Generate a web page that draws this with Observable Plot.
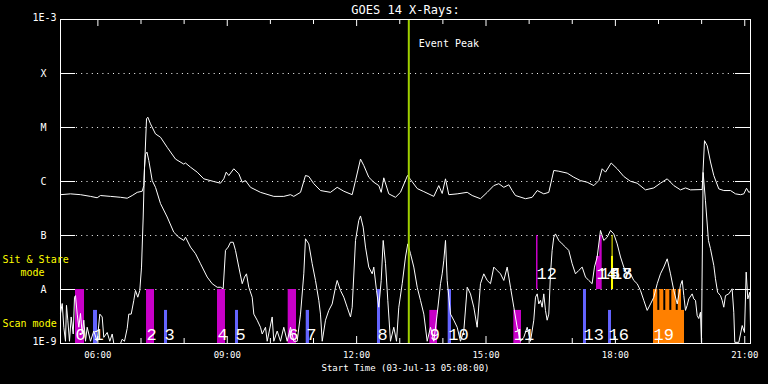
<!DOCTYPE html>
<html><head><meta charset="utf-8">
<script src="https://cdn.jsdelivr.net/npm/d3@7"></script>
<script src="https://cdn.jsdelivr.net/npm/@observablehq/plot@0.6"></script>
<style>html,body{margin:0;padding:0;background:#000;}</style>
</head><body><div id="chart"></div>
<script>
// ---- DATA ----
const chartTitle = "GOES 14 X-Rays:";
const startLabel = "Start Time (03-Jul-13 05:08:00)";
const startHour = 5 + 8 / 60, endHour = 21 + 8 / 60;
const levelValues = [1e-8, 1e-7, 1e-6, 1e-5, 1e-4];
const levelLabels = ["A", "B", "C", "M", "X"];
const edgeValues = [1e-9, 1e-3];
const edgeLabels = ["1E-9", "1E-3"];
const eventPeakHour = 13.21;

// GOES long channel (1-8 A)
const longHours = [5.133,5.365,5.597,5.829,5.984,6.061,6.293,6.525,6.680,6.796,
6.912,7.028,7.065,7.128,7.158,7.220,7.336,7.452,7.607,7.800,
7.992,8.032,8.148,8.303,8.456,8.688,8.843,8.920,8.976,9.036,
9.152,9.268,9.347,9.423,9.539,9.771,10.079,10.311,10.467,10.543,
10.699,10.814,10.891,11.007,11.162,11.394,11.549,11.703,11.897,11.974,
12.090,12.166,12.282,12.398,12.514,12.570,12.630,12.746,12.901,13.017,
13.180,13.249,13.405,13.558,13.790,13.905,13.984,14.061,14.137,14.332,
14.564,14.680,14.872,15.028,15.181,15.297,15.413,15.529,15.607,15.684,
15.916,16.071,16.187,16.340,16.456,16.572,16.688,16.883,17.036,17.191,
17.346,17.500,17.616,17.694,17.771,17.903,18.042,18.195,18.350,18.506,
18.698,18.891,19.046,19.202,19.355,19.510,19.626,19.742,20.013,20.067,
20.129,20.206,20.282,20.398,20.514,20.670,20.786,20.901,20.978,21.041,
21.094,21.133];
const longFlux = [5.7e-7,5.9e-7,5.7e-7,5.3e-7,5.0e-7,5.5e-7,5.3e-7,5.1e-7,4.9e-7,5.5e-7,
6.3e-7,6.6e-7,8.4e-7,1.45e-5,1.55e-5,1.17e-5,7.6e-6,6.6e-6,4.3e-6,2.6e-6,
2.1e-6,2.2e-6,1.84e-6,1.49e-6,1.12e-6,1.0e-6,9.3e-7,1.12e-6,1.49e-6,1.29e-6,
1.72e-6,1.39e-6,9.7e-7,1.04e-6,7.8e-7,6.3e-7,5.3e-7,5.3e-7,5.7e-7,5.3e-7,
6.3e-7,1.29e-6,1.24e-6,9.1e-7,6.8e-7,6.3e-7,7.8e-7,6.6e-7,5.7e-7,1.04e-6,
2.6e-6,1.98e-6,1.2e-6,9.7e-7,8.4e-7,6.3e-7,1.17e-6,5.9e-7,5.1e-7,6.3e-7,
1.29e-6,1.09e-6,7.4e-7,6.5e-7,5.3e-7,8.4e-7,6.0e-7,1.12e-6,5.7e-7,5.9e-7,
6.3e-7,5.5e-7,4.8e-7,6.3e-7,8.4e-7,9.1e-7,7.8e-7,8.7e-7,6.8e-7,5.5e-7,
4.8e-7,5.1e-7,6.8e-7,5.9e-7,6.3e-7,1.6e-6,1.55e-6,1.43e-6,1.2e-6,1.04e-6,
9.7e-7,8.4e-7,1.04e-6,1.72e-6,1.49e-6,2.2e-6,1.72e-6,1.24e-6,1.01e-6,9.3e-7,
7.0e-7,7.6e-7,9.3e-7,1.12e-6,8.4e-7,7.0e-7,7.6e-7,7.0e-7,7.1e-7,5.7e-6,
4.6e-6,2.3e-6,1.29e-6,7.3e-7,6.8e-7,6.8e-7,5.9e-7,5.7e-7,5.9e-7,7.5e-7,
6.3e-7,6.5e-7];

// GOES short channel (0.5-4 A)
const shortHours = [5.133,5.173,5.210,5.249,5.272,5.303,5.342,5.381,5.428,5.458,
5.481,5.521,5.558,5.597,5.637,5.674,5.713,5.752,5.829,5.905,
5.984,6.045,6.100,6.137,6.216,6.277,6.332,6.369,6.525,6.564,
6.617,6.680,6.717,6.773,6.833,6.872,6.926,6.972,7.012,7.051,
7.081,7.104,7.139,7.181,7.260,7.336,7.452,7.607,7.760,7.876,
7.992,8.032,8.148,8.264,8.380,8.535,8.651,8.767,8.843,8.906,
8.959,9.022,9.075,9.138,9.191,9.268,9.347,9.400,9.446,9.500,
9.578,9.616,9.694,9.771,9.810,9.887,9.926,10.042,10.079,10.158,
10.235,10.311,10.390,10.467,10.543,10.622,10.699,10.775,10.814,10.891,
10.970,11.046,11.123,11.162,11.202,11.278,11.355,11.433,11.510,11.549,
11.626,11.703,11.781,11.858,11.897,11.974,12.050,12.090,12.152,12.206,
12.282,12.361,12.398,12.461,12.514,12.570,12.616,12.670,12.723,12.785,
12.862,12.925,12.978,13.057,13.133,13.187,13.249,13.326,13.405,13.481,
13.558,13.636,13.713,13.790,13.868,13.945,13.984,14.021,14.061,14.100,
14.177,14.253,14.332,14.408,14.485,14.564,14.640,14.717,14.795,14.872,
14.949,15.028,15.104,15.181,15.259,15.336,15.413,15.491,15.568,15.645,
15.723,15.800,15.876,15.955,16.032,16.108,16.148,16.187,16.224,16.263,
16.302,16.340,16.379,16.418,16.456,16.495,16.534,16.572,16.611,16.688,
16.766,16.843,16.919,16.998,17.075,17.151,17.230,17.307,17.384,17.461,
17.515,17.578,17.655,17.731,17.810,17.887,17.963,18.042,18.119,18.195,
18.274,18.350,18.427,18.506,18.582,18.659,18.738,18.815,18.891,18.970,
19.046,19.123,19.202,19.278,19.355,19.434,19.510,19.550,19.587,19.626,
19.665,19.702,19.781,19.818,19.858,19.897,19.934,19.973,19.996,20.035,
20.089,20.158,20.205,20.282,20.321,20.370,20.437,20.476,20.514,20.553,
20.630,20.707,20.746,20.769,20.862,20.941,20.994,21.033,21.071,21.118,
21.133];
const shortFlux = [3.6e-9,5.5e-9,2.0e-9,1.1e-9,5.1e-9,2.7e-9,1.1e-9,3.1e-9,1.5e-9,7.2e-9,
7.7e-9,3.5e-9,2.0e-9,3.6e-9,1.5e-9,2.7e-9,1.1e-9,2.0e-9,1.1e-9,1.7e-9,
1.1e-9,3.5e-9,3.1e-9,1.3e-9,1.6e-9,1.1e-9,1.5e-9,1.0e-9,1.0e-9,1.2e-9,
1.1e-9,1.9e-9,3.5e-9,3.5e-9,6.3e-9,9.6e-9,7.2e-9,9.6e-9,2.6e-8,2.2e-7,
1.8e-6,3.2e-6,3.5e-6,2.45e-6,1.04e-6,7.8e-7,3.9e-7,2.2e-7,1.15e-7,9.3e-8,
8.1e-8,9.3e-8,6.1e-8,4.6e-8,3.0e-8,1.7e-8,1.28e-8,1.1e-8,1.1e-8,1.03e-8,
5.3e-8,6.1e-8,7.5e-8,7.5e-8,5.3e-8,2.6e-8,1.28e-8,1.7e-8,1.95e-8,1.1e-8,
7.2e-9,3.5e-9,2.7e-9,2.0e-9,1.5e-9,2.0e-9,1.1e-9,3.1e-9,1.1e-9,1.7e-9,
1.1e-9,2.0e-9,1.1e-9,2.0e-9,1.1e-9,1.1e-9,3.5e-9,1.95e-8,8.7e-8,7.0e-8,
3.0e-8,1.47e-8,6.3e-9,3.5e-9,1.1e-9,2.7e-9,4.1e-9,5.4e-9,1.1e-8,1.47e-8,
9.6e-9,7.2e-9,4.7e-9,3.1e-9,4.7e-9,8.1e-8,1.9e-7,2.3e-7,1.43e-7,6.1e-8,
2.6e-8,1.95e-8,2.6e-8,9.6e-9,4.7e-9,1.47e-8,8.1e-8,3.0e-8,6.3e-9,1.1e-9,
2.0e-9,1.1e-9,4.7e-9,1.28e-8,4.0e-8,7.0e-8,4.6e-8,2.6e-8,1.1e-8,6.3e-9,
3.5e-9,1.1e-9,2.0e-9,1.1e-9,3.5e-9,1.28e-8,1.95e-8,3.4e-8,8.1e-8,1.47e-8,
3.5e-9,2.7e-9,2.0e-9,1.1e-9,1.7e-9,1.1e-8,8.3e-9,4.7e-9,2.0e-9,1.28e-8,
1.95e-8,1.47e-8,1.28e-8,2.6e-8,2.25e-8,1.95e-8,1.47e-8,2.6e-8,1.1e-8,4.7e-9,
2.0e-9,1.1e-9,1.3e-9,2.0e-9,1.1e-9,2.7e-9,7.2e-9,8.3e-9,5.4e-9,6.3e-9,
4.7e-9,8.3e-9,4.1e-9,2.7e-9,3.5e-9,1.95e-8,5.3e-8,9.3e-8,1.07e-7,8.1e-8,
7.0e-8,6.1e-8,5.3e-8,3.0e-8,1.95e-8,2.25e-8,2.6e-8,1.7e-8,1.47e-8,1.28e-8,
2.6e-8,4.0e-8,1.24e-7,8.1e-8,9.3e-8,1.24e-7,1.07e-7,7.0e-8,4.0e-8,2.6e-8,
1.95e-8,1.95e-8,1.47e-8,1.28e-8,9.6e-9,6.3e-9,4.1e-9,5.4e-9,7.2e-9,1.28e-8,
1.95e-8,2.6e-8,3.7e-8,1.95e-8,9.6e-9,5.4e-9,1.2e-8,1.47e-8,7.7e-9,4.1e-9,
5.1e-9,6.7e-9,8.3e-9,6.7e-9,6.3e-9,3.3e-9,2.9e-9,3.8e-9,1.05e-9,1.47e-6,
4.4e-7,8.1e-8,5.7e-8,2.8e-8,1.58e-8,8.9e-9,7.7e-9,6.3e-9,4.7e-9,7.7e-9,
8.3e-9,1.03e-8,3.8e-9,1.05e-9,1.05e-9,2.15e-9,1.6e-9,2.1e-8,6.7e-9,8.9e-9,
2.15e-9];

// Observation bars: id label, start/end (UT hours), mode, top flux, kind
const barIds   = ["0","1","2","3","4","5","6","7","8","9","10","11","12","13","14","15","16","17","18","19","","","","",""];
const barStart = [5.481,5.899,7.128,7.545,8.774,9.191,10.413,10.831,12.484,13.697,14.123,15.645,16.171,17.261,17.562,17.639,17.841,17.910,17.924,18.884,18.884,19.030,19.169,19.309,19.457];
const barEnd   = [5.690,5.991,7.313,7.615,8.959,9.261,10.606,10.907,12.554,13.875,14.200,15.823,16.206,17.330,17.655,17.694,17.910,17.957,17.947,19.603,18.984,19.123,19.262,19.411,19.534];
const barMode  = ["scan","scan","scan","scan","scan","scan","scan","scan","scan","scan","scan","scan","sit","scan","sit","sit","scan","sit","sit","scan","scan","scan","scan","scan","scan"];
const barTop   = [1e-8,4.1e-9,1e-8,4.1e-9,1e-8,4.1e-9,1e-8,4.1e-9,1e-8,4.1e-9,1e-8,4.1e-9,1e-7,1e-8,4.1e-8,1e-7,4.1e-9,4.1e-8,1e-7,4.1e-9,1e-8,1e-8,1e-8,1e-8,1e-8];
const barKind  = ["M","B","M","B","M","B","M","B","B","M","B","M","M","B","M","M","B","Y","Y","O","O","O","O","O","O"];
const kindDomain = ["M","B","Y","O"];
const kindColors = ["#c800c8","#6464ff","#ffff00","#ff8000"];

// ---- BUILD ----
const day0 = Date.UTC(2013, 6, 3);
const toDate = h => new Date(day0 + h * 3600e3);
const longData = longHours.map((h, i) => ({t: toDate(h), f: longFlux[i]}));
const shortData = shortHours.map((h, i) => ({t: toDate(h), f: shortFlux[i]}));
const bars = barIds.map((id, i) => ({
  id, t1: toDate(barStart[i]), t2: toDate(barEnd[i]), mode: barMode[i],
  y1: barMode[i] === "sit" ? 1e-8 : 1e-9, y2: barTop[i], kind: barKind[i]
}));
const t0 = toDate(startHour), t1 = toDate(endHour);
const hourTicks = d3.utcHours(t0, t1);
const majorTicks = hourTicks.filter(d => d.getUTCHours() % 3 === 0);
const minorTicks = hourTicks.filter(d => d.getUTCHours() % 3 !== 0);
const mono = "'DejaVu Sans Mono', monospace";
const thinMono = "'Liberation Mono', 'DejaVu Sans Mono', monospace";

const chart = Plot.plot({
  width: 768, height: 384,
  marginLeft: 60, marginRight: 18, marginTop: 19, marginBottom: 41,
  style: {background: "black", color: "white", fontFamily: mono, fontSize: "9px"},
  x: {type: "utc", domain: [t0, t1]},
  y: {type: "log", domain: [1e-9, 1e-3], axis: null},
  color: {domain: kindDomain, range: kindColors},
  marks: [
    Plot.ruleY(levelValues, {y: d => d, stroke: "white", strokeDasharray: "1,4.3"}),
    Plot.rect(bars, {x1: "t1", x2: "t2", y1: "y1", y2: "y2", fill: "kind"}),
    Plot.line(longData, {x: "t", y: "f", stroke: "white", strokeWidth: 1}),
    Plot.line(shortData, {x: "t", y: "f", stroke: "white", strokeWidth: 1}),
    Plot.text(bars.filter(d => d.mode === "scan" && d.id), {x: "t1", y: () => 1e-9, text: "id", fill: "white", textAnchor: "start", lineAnchor: "bottom", dy: -4, fontSize: 17, fontFamily: thinMono}),
    Plot.text(bars.filter(d => d.mode === "sit" && d.id), {x: "t1", y: () => 1e-8, text: "id", fill: "white", textAnchor: "start", lineAnchor: "bottom", dy: -11, fontSize: 17, fontFamily: thinMono}),
    Plot.ruleX([toDate(eventPeakHour)], {x: d => d, stroke: "#a0d000", strokeWidth: 2}),
    Plot.text(["Event Peak"], {x: () => toDate(eventPeakHour), frameAnchor: "top", lineAnchor: "middle", dx: 10, dy: 24, textAnchor: "start", fill: "white", fontSize: 10}),
    Plot.tickY(levelValues, {y: d => d, stroke: "white", insetRight: 675}),
    Plot.tickY(levelValues, {y: d => d, stroke: "white", insetLeft: 675}),
    Plot.tickX(majorTicks, {x: d => d, stroke: "white", insetBottom: 317}),
    Plot.tickX(minorTicks, {x: d => d, stroke: "white", insetBottom: 319}),
    Plot.tickX(majorTicks, {x: d => d, stroke: "white", insetTop: 317}),
    Plot.tickX(minorTicks, {x: d => d, stroke: "white", insetTop: 319}),
    Plot.frame({stroke: "white"}),
    Plot.axisX(majorTicks, {tickSize: 0, tickPadding: 8, tickFormat: d3.utcFormat("%H:%M"), label: null, fill: "white", fontSize: 9}),
    Plot.text(levelValues, {y: d => d, text: (d, i) => levelLabels[i], frameAnchor: "left", dx: -17, textAnchor: "middle", fill: "white", fontSize: 10}),
    Plot.text(edgeValues, {y: d => d, text: (d, i) => edgeLabels[i], frameAnchor: "left", dx: -4, dy: -2, textAnchor: "end", fill: "white", fontSize: 10}),
    Plot.text(["Sit & Stare\n   mode"], {y: () => 2.75e-8, frameAnchor: "left", dx: -58, textAnchor: "start", lineHeight: 1.27, fill: "#ffff00", fontSize: 10}),
    Plot.text(["Scan mode"], {y: () => 2.3e-9, frameAnchor: "left", dx: -58, textAnchor: "start", fill: "#ffff00", fontSize: 10}),
    Plot.text([chartTitle], {frameAnchor: "top", lineAnchor: "middle", dy: -9, fill: "white", fontSize: 12}),
    Plot.text([startLabel], {frameAnchor: "bottom", lineAnchor: "middle", dy: 25, fill: "white", fontSize: 9})
  ]
});
document.getElementById("chart").appendChild(chart);
</script>
</body></html>
